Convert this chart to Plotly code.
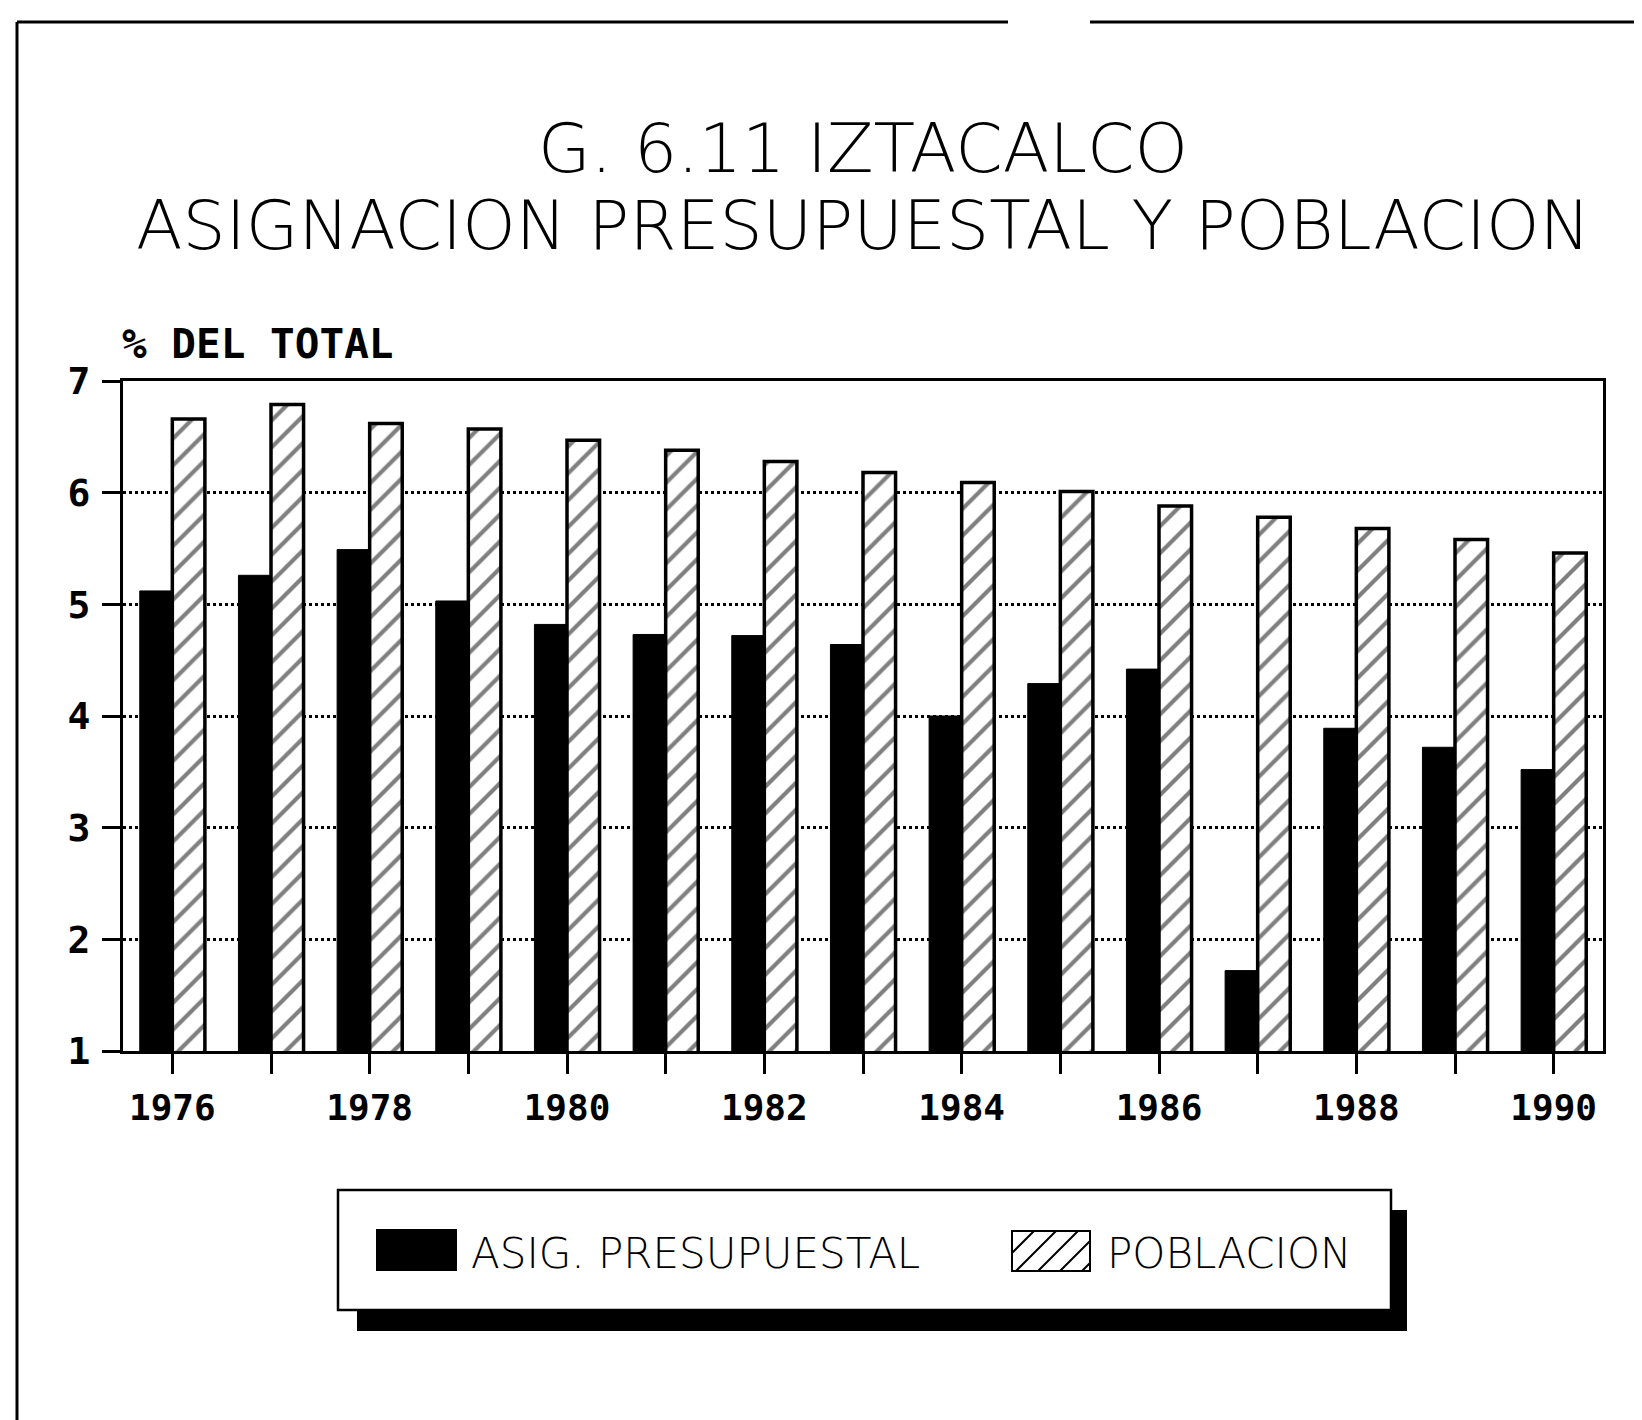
import plotly.graph_objects as go

# ---------------- data ----------------
years = list(range(1976, 1991))
asig_presupuestal = [5.12, 5.26, 5.49, 5.03, 4.82, 4.73, 4.72, 4.64, 4.00, 4.29, 4.42, 1.72, 3.89, 3.72, 3.52]
poblacion = [6.66, 6.79, 6.62, 6.57, 6.47, 6.38, 6.28, 6.18, 6.09, 6.01, 5.88, 5.78, 5.68, 5.58, 5.46]
x_tick_labels = [str(y) if (y % 2 == 0) else "" for y in years]
y_ticks = [1, 2, 3, 4, 5, 6, 7]
series_names = ["ASIG. PRESUPUESTAL", "POBLACION"]
title_lines = ["G. 6.11 IZTACALCO", "ASIGNACION PRESUPUESTAL Y POBLACION"]
y_title = "% DEL TOTAL"

# ---------------- layout constants ----------------
W, H = 1642, 1420
ML, MR, MT, MB = 115, 47, 373, 377
PW = W - ML - MR
PH = H - MT - MB
OX, OY = -7, -7  # shift applied to decoration pixel positions

THIN = "DejaVu Sans, Lato, sans-serif"
MONO = "DejaVu Sans Mono, Liberation Mono, monospace"


def px(x):
    return (x + OX - ML) / PW


def py(y):
    return 1 - (y + OY - MT) / PH


fig = go.Figure()
fig.add_trace(go.Bar(
    x=years, y=asig_presupuestal, name=series_names[0],
    marker=dict(color="black", line=dict(color="black", width=1)),
    showlegend=False,
))
fig.add_trace(go.Bar(
    x=years, y=poblacion, name=series_names[1],
    marker=dict(color="white", line=dict(color="black", width=3.5),
                pattern=dict(shape="/", fgcolor="black", bgcolor="white", size=19, solidity=0.22)),
    showlegend=False,
))

fig.update_layout(
    width=W, height=H,
    margin=dict(l=ML, r=MR, t=MT, b=MB),
    paper_bgcolor="white", plot_bgcolor="white",
    barmode="group", bargap=0.34, bargroupgap=0,
    showlegend=False,
)

fig.update_xaxes(
    range=[1975.5, 1990.5], tickmode="array", tickvals=years, ticktext=x_tick_labels,
    ticks="outside", ticklen=20, tickwidth=3, tickcolor="black",
    showline=True, linewidth=3, linecolor="black", mirror=True,
    showgrid=False, zeroline=False,
    tickfont=dict(family=MONO, size=36, color="black", weight="bold"), ticklabelstandoff=3,
)
fig.update_yaxes(
    range=[1, 7], tickmode="array", tickvals=y_ticks,
    ticks="outside", ticklen=18, tickwidth=3, tickcolor="black",
    showline=True, linewidth=3, linecolor="black", mirror=True,
    showgrid=True, gridcolor="black", gridwidth=2.5, griddash="dot",
    zeroline=False,
    tickfont=dict(family=MONO, size=38, color="black", weight="bold"), ticklabelstandoff=4,
)

# titles
fig.add_annotation(text=title_lines[0], xref="paper", yref="paper", x=0.5, y=py(147),
                   xanchor="center", yanchor="middle", showarrow=False,
                   font=dict(family=THIN, size=68, color="black", weight=200))
fig.add_annotation(text=title_lines[1], xref="paper", yref="paper", x=0.5, y=py(225),
                   xanchor="center", yanchor="middle", showarrow=False,
                   font=dict(family=THIN, size=68, color="black", weight=200))
fig.add_annotation(text=y_title, xref="paper", yref="paper", x=px(119), y=py(343),
                   xanchor="left", yanchor="middle", showarrow=False,
                   font=dict(family=MONO, size=41, color="black", weight="bold"))

# outer page frame (scan border)
fig.add_shape(type="line", xref="paper", yref="paper", x0=px(16), x1=px(16), y0=py(21), y1=py(1440),
              line=dict(color="black", width=3))
fig.add_shape(type="line", xref="paper", yref="paper", x0=px(16), x1=px(1007), y0=py(21), y1=py(21),
              line=dict(color="black", width=3))
fig.add_shape(type="line", xref="paper", yref="paper", x0=px(1089), x1=px(1660), y0=py(21), y1=py(21),
              line=dict(color="black", width=3))

# custom legend box with shadow
fig.add_shape(type="rect", xref="paper", yref="paper", x0=px(356), x1=px(1406), y0=py(1330), y1=py(1209),
              fillcolor="black", line=dict(width=0), layer="above")
fig.add_shape(type="rect", xref="paper", yref="paper", x0=px(337), x1=px(1390), y0=py(1309), y1=py(1189),
              fillcolor="white", line=dict(color="black", width=2.5), layer="above")
# swatch 1 (solid)
fig.add_shape(type="rect", xref="paper", yref="paper", x0=px(375), x1=px(456), y0=py(1270), y1=py(1228),
              fillcolor="black", line=dict(width=0), layer="above")
# swatch 2 (hatched)
sx0, sx1, sy0, sy1 = 1011, 1089, 1230, 1270
fig.add_shape(type="rect", xref="paper", yref="paper", x0=px(sx0), x1=px(sx1), y0=py(sy1), y1=py(sy0),
              fillcolor="white", line=dict(color="black", width=2), layer="above")
path = ""
step = 22
x = sx0 - (sy1 - sy0)
while x < sx1:
    ax, ay = x, sy1
    bx, by = x + (sy1 - sy0), sy0
    if ax < sx0:
        ay = sy1 - (sx0 - ax)
        ax = sx0
    if bx > sx1:
        by = sy0 + (bx - sx1)
        bx = sx1
    if ax < bx:
        path += f"M{px(ax)},{py(ay)} L{px(bx)},{py(by)} "
    x += step
fig.add_shape(type="path", xref="paper", yref="paper", path=path,
              line=dict(color="black", width=2), layer="above")

fig.add_annotation(text=series_names[0], xref="paper", yref="paper", x=px(468), y=py(1252),
                   xanchor="left", yanchor="middle", showarrow=False,
                   font=dict(family=THIN, size=42, color="black", weight=200))
fig.add_annotation(text=series_names[1], xref="paper", yref="paper", x=px(1104), y=py(1252),
                   xanchor="left", yanchor="middle", showarrow=False,
                   font=dict(family=THIN, size=42, color="black", weight=200))

fig.write_html("out.html")
